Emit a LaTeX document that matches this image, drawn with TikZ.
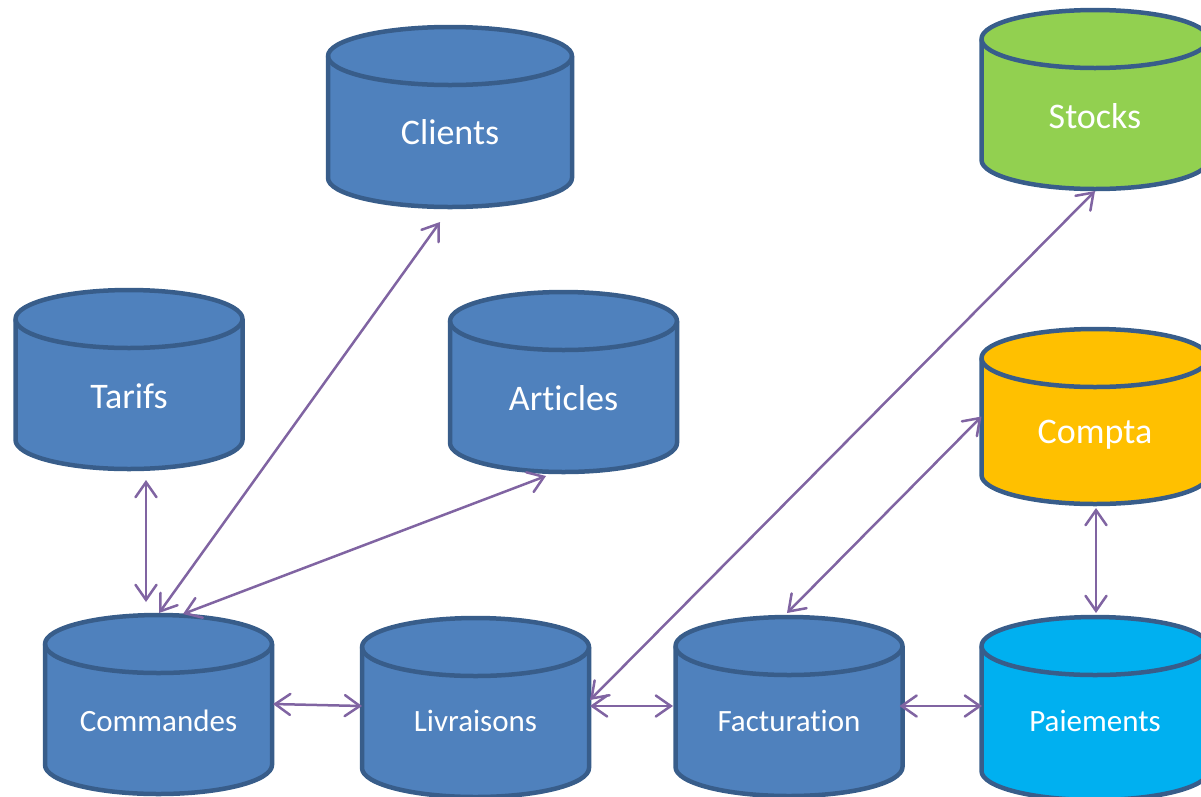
\documentclass[tikz,border=0pt]{standalone}
\usepackage{fontspec}
\setmainfont{Carlito}[Ligatures={NoCommon,NoContextual,NoRequired}, Contextuals=NoAlternate]
\usetikzlibrary{arrows.meta,calc}

\definecolor{dbblue}{HTML}{4F81BD}
\definecolor{dbedge}{HTML}{385D8A}
\definecolor{dbgreen}{HTML}{92D050}
\definecolor{dborange}{HTML}{FFC000}
\definecolor{dbcyan}{HTML}{00B0F0}
\definecolor{linkcol}{HTML}{8064A2}

\def\cylry{29}
% keeps "t" and "i" as separate letters
\newcommand\noti{\kern0pt\relax}

\tikzset{
  cylbody/.style={draw=dbedge, line width=4.5pt, line join=round},
  biglabel/.style={text=white, inner sep=0pt, anchor=base, yshift=-11.6pt,
    font=\fontsize{36}{40}\selectfont},
  smalllabel/.style={text=white, inner sep=0pt, anchor=base, yshift=-10pt,
    font=\fontsize{31}{36}\selectfont},
  barb/.tip={Straight Barb[length=15pt, width=21pt, line cap=round]},
  link/.style={draw=linkcol, line width=2.5pt, barb-barb},
}

% database cylinder: #1 name, #2 centre x, #3 top y, #4 bottom y,
% #5 half width, #6 fill, #7 label y, #8 label style, #9 label
\newcommand\dbcyl[9]{%
  \path[cylbody, fill=#6]
    (#2-#5,#3+\cylry) -- (#2-#5,#4-\cylry)
    arc[start angle=180, end angle=0, x radius=#5, y radius=\cylry]
    -- (#2+#5,#3+\cylry)
    arc[start angle=0, end angle=-180, x radius=#5, y radius=\cylry]
    -- cycle;
  \draw[cylbody] (#2-#5,#3+\cylry)
    arc[start angle=180, end angle=0, x radius=#5, y radius=\cylry];
  \pgfmathsetmacro\cylw{2*#5}%
  \pgfmathsetmacro\cylh{#4-#3}%
  \node[inner sep=0pt, outer sep=0pt, minimum width=\cylw pt, minimum height=\cylh pt]
    (#1) at (#2,{(#3+#4)/2}) {};
  \node[#8] (#1-label) at (#2,#7) {#9};
}

\begin{document}
\begin{tikzpicture}[x=1pt, y=-1pt]
  \useasboundingbox (0,0) rectangle (1201,796);
  \clip (0,0) rectangle (1201,796);

  % top and middle tables
  \dbcyl{cli}{450}{27}{207}{122}{dbblue}{133}{biglabel}{Clients}
  \dbcyl{tar}{129}{290}{469}{113.5}{dbblue}{397}{biglabel}{Tarifs}
  \dbcyl{art}{563.5}{292}{472}{113.5}{dbblue}{399}{biglabel}{Art\noti icles}
  \dbcyl{stk}{1095}{10}{189}{113.5}{dbgreen}{117}{biglabel}{Stocks}
  \dbcyl{cpt}{1095}{329}{504}{113.5}{dborange}{432}{biglabel}{Compta}

  % bottom row
  \dbcyl{cmd}{158.5}{615}{794}{113.5}{dbblue}{721}{smalllabel}{Commandes}
  \dbcyl{liv}{475.5}{618}{797}{113.5}{dbblue}{721}{smalllabel}{Livraisons}
  \dbcyl{fac}{789}{617}{796}{113.5}{dbblue}{721}{smalllabel}{Facturat\noti ion}
  \dbcyl{pai}{1095}{617}{800}{113.5}{dbcyan}{721}{smalllabel}{Paiements}

  % links between tables
  \draw[link] ($(tar.south)+(17,11)$) -- ($(cmd.north)+(-12.5,-13)$);
  \draw[link] ($(cli.south)+(-10,15)$) -- ($(cmd.north)+(0.5,-2)$);
  \draw[link] ($(art.south)+(-17.5,4)$) -- ($(cmd.north)+(24.5,-1)$);
  \draw[link] ($(cmd.east)+(1,-0.5)$) -- ($(liv.west)+(0,-1.5)$);
  \draw[link] ($(liv.east)+(1,-1.5)$) -- ($(fac.west)+(-2.5,-0.5)$);
  \draw[link] ($(fac.east)+(-3,-0.5)$) -- ($(pai.west)+(0.5,-2.5)$);
  \draw[link] ($(liv.east)+(1,-7.5)$) -- ($(stk.south)+(0,2)$);
  \draw[link] ($(fac.north)+(-2,-4)$) -- ($(cpt.west)+(0,0)$);
  \draw[link] ($(cpt.south)+(1,4)$) -- ($(pai.north)+(1,-4)$);
\end{tikzpicture}
\end{document}
